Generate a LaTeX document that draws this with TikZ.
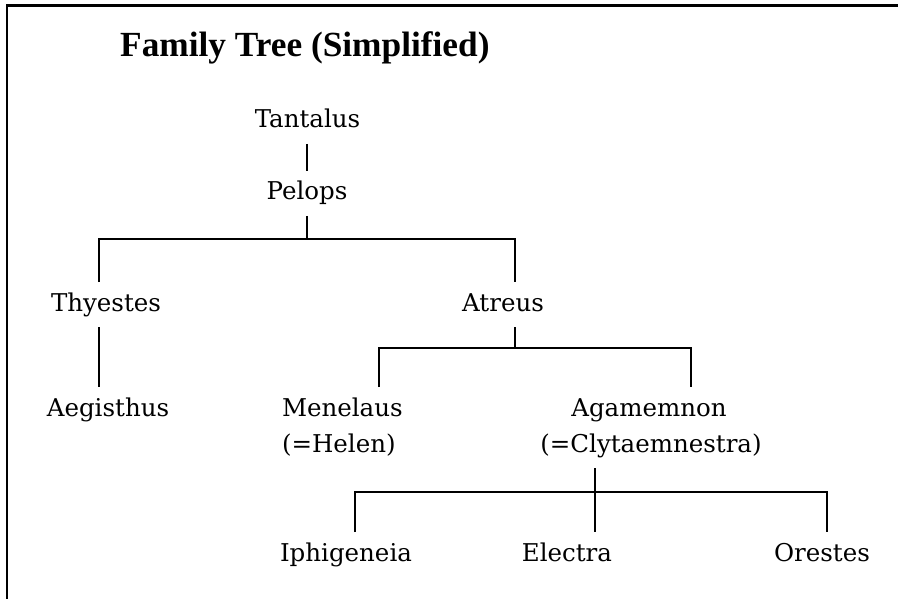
\documentclass[tikz,border=0pt]{standalone}
\usepackage{fontspec}
\newfontfamily\bodyfont{DejaVu Serif}
\newfontfamily\titlefont{Liberation Serif}
\begin{document}
\begin{tikzpicture}[x=1pt,y=-1pt,
  person/.style={font=\bodyfont\fontsize{24.5}{28}\selectfont, inner sep=0pt,
    text height=18pt, text depth=5pt, outer xsep=0pt, outer ysep=11pt, anchor=base},
  personw/.style={person, anchor=base west},
  link/.style={draw=black, line width=1.3pt},
  frame/.style={draw=black, line width=2.2pt}]
\useasboundingbox (0,0) rectangle (898,599);
\fill[white] (0,0) rectangle (898,599);
\draw[frame] (898,5.5) -- (7,5.5) -- (7,599);

\node[anchor=base west, inner sep=0pt, font=\titlefont\bfseries\fontsize{35.3}{40}\selectfont] (title) at (120,57) {Family Tree (Simplified)};

\node[person] (tantalus) at (307.5,128) {Tantalus};
\node[person] (pelops) at (307,200) {Pelops};
\node[person] (thyestes) at (106,311) {Thyestes};
\node[person] (atreus) at (503,311) {Atreus};
\node[person] (aegisthus) at (108,416) {Aegisthus};
\node[personw] (menelaus) at (282,416) {Menelaus};
\node[personw] (helen) at (282,452) {(=Helen)};
\node[person] (agamemnon) at (649,416) {Agamemnon};
\node[person] (clyt) at (651,452) {(=Clytaemnestra)};
\node[person] (iphigeneia) at (346,561) {Iphigeneia};
\node[person] (electra) at (567,561) {Electra};
\node[person] (orestes) at (822,561) {Orestes};

\coordinate (jP) at (307,239);
\coordinate (jT) at (99,239);
\coordinate (jA) at (515,239);
\coordinate (kA) at (515,348);
\coordinate (kM) at (379,348);
\coordinate (kG) at (691,348);
\coordinate (mC) at (595,492);
\coordinate (mI) at (355,492);
\coordinate (mO) at (827,492);

\draw[link] (jP |- tantalus.south) -- (jP |- pelops.north);
\draw[link] (jP |- pelops.south) -- (jP);
\draw[link] (jT |- thyestes.north) -- (jT) -- (jA) -- (jA |- atreus.north);
\draw[link] (jT |- thyestes.south) -- (jT |- aegisthus.north);
\draw[link] (kA |- atreus.south) -- (kA);
\draw[link] (kM |- menelaus.north) -- (kM) -- (kG) -- (kG |- agamemnon.north);
\draw[link] (mC |- clyt.south) -- (mC |- electra.north);
\draw[link] (mI |- iphigeneia.north) -- (mI) -- (mO) -- (mO |- orestes.north);
\end{tikzpicture}
\end{document}
